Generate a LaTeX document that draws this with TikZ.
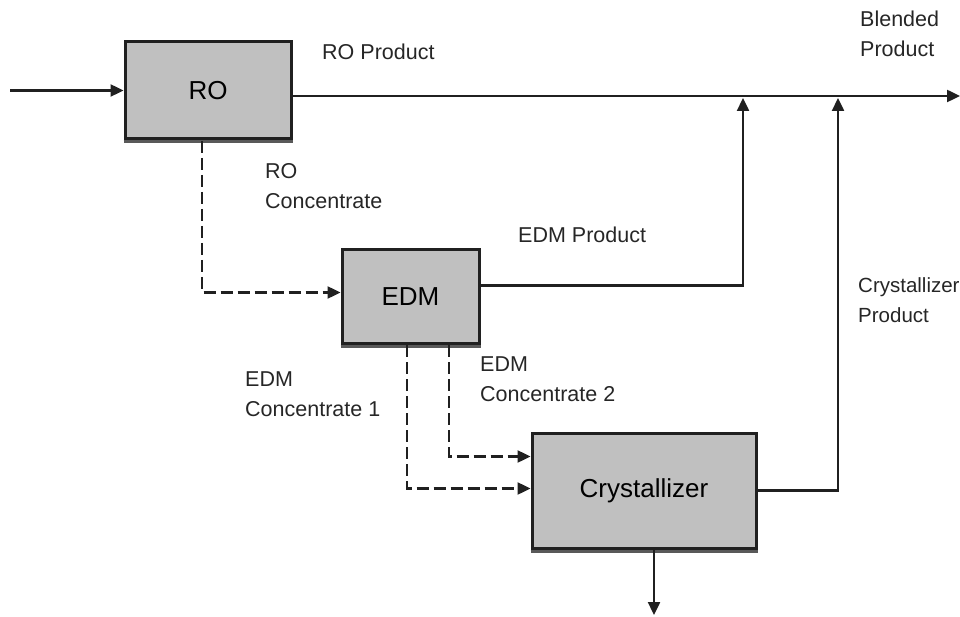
\documentclass[tikz,border=0pt]{standalone}
\usepackage{fontspec}
\setmainfont{Liberation Sans}
\usetikzlibrary{arrows.meta,calc}
\definecolor{boxgray}{HTML}{C0C0C0}
\definecolor{linec}{HTML}{202020}
\begin{document}
\begin{tikzpicture}[x=1pt,y=-1pt,
  unitbox/.style={draw=linec,line width=3pt,fill=boxgray,inner sep=0pt,font=\fontsize{26}{30}\selectfont},
  flow/.style={draw=linec,line width=2.4pt,-{Triangle[length=13pt,width=12pt]}},
  dflow/.style={flow,dash pattern=on 12pt off 5pt},
  lbl/.style={anchor=north west,align=left,inner sep=0pt,font=\fontsize{21.5}{30}\selectfont,text=black!85}]
\useasboundingbox (0,0) rectangle (960,617);
% boxes
\node[unitbox,minimum width=166pt,minimum height=97pt] (RO) at (208,90.5) {RO};
\node[unitbox,minimum width=137pt,minimum height=93pt] (EDM) at (410.5,296.5) {EDM};
\node[unitbox,minimum width=224pt,minimum height=115pt] (CR) at (644,490.5) {Crystallizer};
% shadow edges
\draw[black!65,line width=3pt] ($(RO.south west)+(0,1.5)$) -- ($(RO.south east)+(0,1.5)$);
\draw[black!65,line width=3pt] ($(EDM.south west)+(0,1.5)$) -- ($(EDM.south east)+(0,1.5)$);
\draw[black!65,line width=3pt] ($(CR.south west)+(0,1.5)$) -- ($(CR.south east)+(0,1.5)$);
% coordinates
\coordinate (in) at (10,90.5);
\coordinate (out) at (960,96);
\coordinate (j1) at (743,98);
\coordinate (j2) at (838,98);
\coordinate (waste) at (654,615);
% connectors
\draw[flow] (in) -- (RO.west);
\draw[flow] ($(RO.east)+(0,5.5)$) -- (out);
\draw[flow] ($(EDM.east)+(0,-11)$) -| (j1);
\draw[flow] (CR.east) -| (j2);
\draw[dflow] (202,141) |- ($(EDM.west)+(0,-4)$);
\draw[dflow] (449,345) |- ($(CR.west)+(0,-34)$);
\draw[dflow] (407,345) |- ($(CR.west)+(0,-2)$);
\draw[flow] (654,550) -- (waste);
% labels
\node[lbl] (lRO) at (322,44) {RO Product};
\node[lbl] (lBl) at (860,11) {Blended\\Product};
\node[lbl] (lROc) at (265,163) {RO\\Concentrate};
\node[lbl] (lEDMp) at (518,227) {EDM Product};
\node[lbl,font=\fontsize{20.5}{30}\selectfont] (lCrp) at (858,277) {Crystallizer\\Product};
\node[lbl] (lE1) at (245,372) {EDM\\Concentrate 1};
\node[lbl] (lE2) at (480,357) {EDM\\Concentrate 2};
\end{tikzpicture}
\end{document}
